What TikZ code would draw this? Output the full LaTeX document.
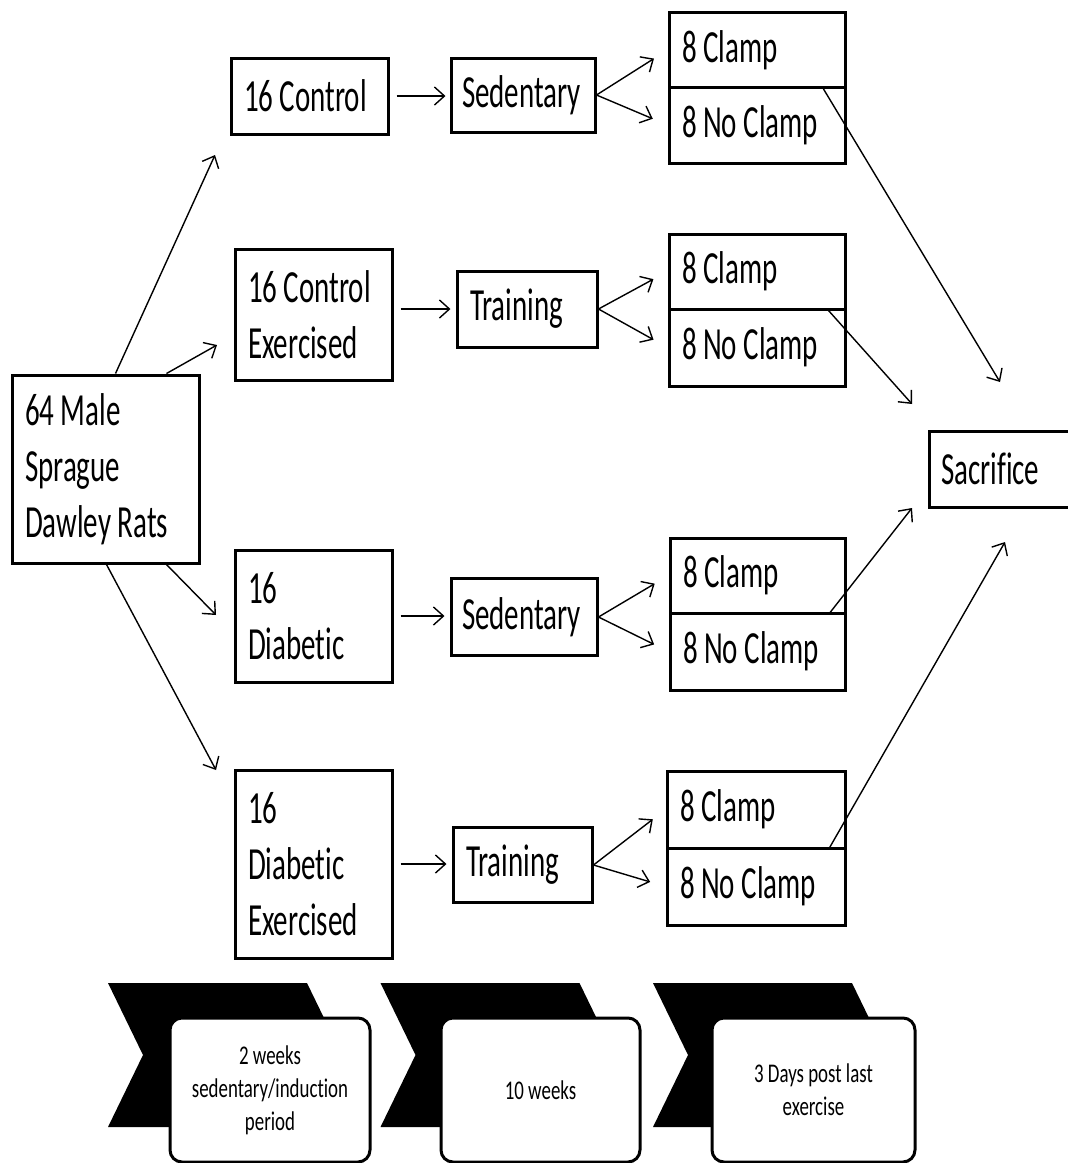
\documentclass[tikz,border=0pt]{standalone}
\usepackage{fontspec}
\setmainfont{Carlito}[FakeStretch=0.63, Ligatures={NoCommon}]
\newfontfamily\smallfont{Carlito}[FakeStretch=0.70, Ligatures={NoCommon}]
\usetikzlibrary{arrows.meta,calc}
\begin{document}
\hyphenpenalty=10000
\exhyphenpenalty=10000
\begin{tikzpicture}[x=1pt,y=-1pt,
  box/.style={draw, line width=3pt, inner xsep=13pt, inner ysep=0pt, align=flush left,
    font=\fontsize{46}{56}\selectfont},
  arr/.style={line width=1.4pt, -{Straight Barb[length=10pt,width=18pt]}},
  fan/.style={arr, shorten >=16pt},
  chev/.style={fill=black},
  note/.style={draw, line width=3pt, rounded corners=12pt, fill=white, align=flush center,
    inner sep=0pt, minimum height=144pt, font=\smallfont\fontsize{27}{33}\selectfont}]
\clip (0,0) rectangle (1068,1163);

% main boxes
\node[box, minimum width=187pt, minimum height=188pt, text width=161pt] (rats) at (105.5,469) {64 Male\\Sprague\\Dawley Rats};
\node[box, minimum width=157pt, minimum height=76pt, text width=131pt] (ctrl) at (309.5,96) {16 Control};
\node[box, minimum width=157pt, minimum height=131pt, text width=131pt] (ctrlex) at (313.5,314.5) {16 Control\\Exercised};
\node[box, minimum width=157pt, minimum height=132pt, text width=131pt] (diab) at (313.5,616) {16\\Diabetic};
\node[box, minimum width=157pt, minimum height=188pt, text width=131pt] (diabex) at (313.5,864) {16\\Diabetic\\Exercised};

\node[box, inner xsep=11pt, minimum width=144pt, minimum height=74pt, text width=122pt] (sed1) at (523,95) {Sedentary};
\node[box, minimum width=140pt, minimum height=76pt, text width=114pt] (tr1) at (527,309) {Training};
\node[box, inner xsep=11pt, minimum width=146pt, minimum height=77pt, text width=124pt] (sed2) at (524,617) {Sedentary};
\node[box, minimum width=139pt, minimum height=75pt, text width=113pt] (tr2) at (522.5,865) {Training};

\node[box, minimum width=176pt, minimum height=75pt, text width=150pt] (c1a) at (757,50) {8 Clamp};
\node[box, minimum width=176pt, minimum height=76pt, text width=150pt] (c1b) at (757,125) {8 No Clamp};
\node[box, minimum width=176pt, minimum height=75pt, text width=150pt] (c2a) at (757,271.5) {8 Clamp};
\node[box, minimum width=176pt, minimum height=77pt, text width=150pt] (c2b) at (757,347.5) {8 No Clamp};
\node[box, minimum width=175pt, minimum height=75pt, text width=149pt] (c3a) at (757.5,575.5) {8 Clamp};
\node[box, minimum width=175pt, minimum height=77pt, text width=149pt] (c3b) at (757.5,651.5) {8 No Clamp};
\node[box, minimum width=178pt, minimum height=77pt, text width=152pt] (c4a) at (756,809.5) {8 Clamp};
\node[box, minimum width=178pt, minimum height=77pt, text width=152pt] (c4b) at (756,886.5) {8 No Clamp};

\node[box, inner xsep=12pt, minimum width=146pt, minimum height=76pt, text width=122pt] (sac) at (1002,469) {Sacrifice};

% free ends
\coordinate (e1) at (215,155);
\coordinate (e2) at (217,345);
\coordinate (e3) at (216,615);
\coordinate (e4) at (216,770);
\coordinate (s1) at (1000,382);
\coordinate (s2) at (912,404);
\coordinate (s3) at (912,508);
\coordinate (s4) at (1005,542);

% arrows from rats
\draw[arr] ($(rats.north west)+(105,0)$) -- (e1);
\draw[arr] ($(rats.north west)+(156,0)$) -- (e2);
\draw[arr] ($(rats.south west)+(156,0)$) -- (e3);
\draw[arr] ($(rats.south west)+(96,0)$) -- (e4);

% group to treatment
\draw[arr, shorten <=7pt, shorten >=4pt] (ctrl.east) -- (ctrl.east -| sed1.west);
\draw[arr, shorten <=7pt, shorten >=5pt] (ctrlex.east |- tr1.west) -- (tr1.west);
\draw[arr, shorten <=7pt, shorten >=5pt] (diab.east) -- (diab.east -| sed2.west);
\draw[arr, shorten <=7pt, shorten >=5pt] (diabex.east) -- (diabex.east -| tr2.west);

% fans
\draw[fan] (sed1.east) -- (c1a.west);
\draw[fan] (sed1.east) -- (c1b.west);
\draw[fan] (tr1.east) -- (c2a.west);
\draw[fan] (tr1.east) -- (c2b.west);
\draw[fan] (sed2.east) -- (c3a.west);
\draw[fan] (sed2.east) -- (c3b.west);
\draw[fan] (tr2.east) -- (c4a.west);
\draw[fan] (tr2.east) -- (c4b.west);

% to sacrifice
\draw[arr] ($(c1a.south west)+(156,0)$) -- (s1);
\draw[arr] ($(c2a.south west)+(161,0)$) -- (s2);
\draw[arr] ($(c3a.south west)+(160,0)$) -- (s3);
\draw[arr] ($(c4a.south west)+(163,0)$) -- (s4);

% timeline chevrons
\foreach \dx in {0,272.5,545}{
  \fill[chev] (108+\dx,983) -- (307+\dx,983) -- (342+\dx,1055) -- (307+\dx,1127)
    -- (108+\dx,1127) -- (143+\dx,1055) -- cycle;
}
\node[note, minimum width=200pt] (t1) at (270,1090) {2 weeks\\sedentary/induction\\period};
\node[note, minimum width=199pt] (t2) at (540.5,1090) {10 weeks};
\node[note, minimum width=203pt] (t3) at (813.5,1090) {3 Days post last\\exercise};
\end{tikzpicture}
\end{document}
